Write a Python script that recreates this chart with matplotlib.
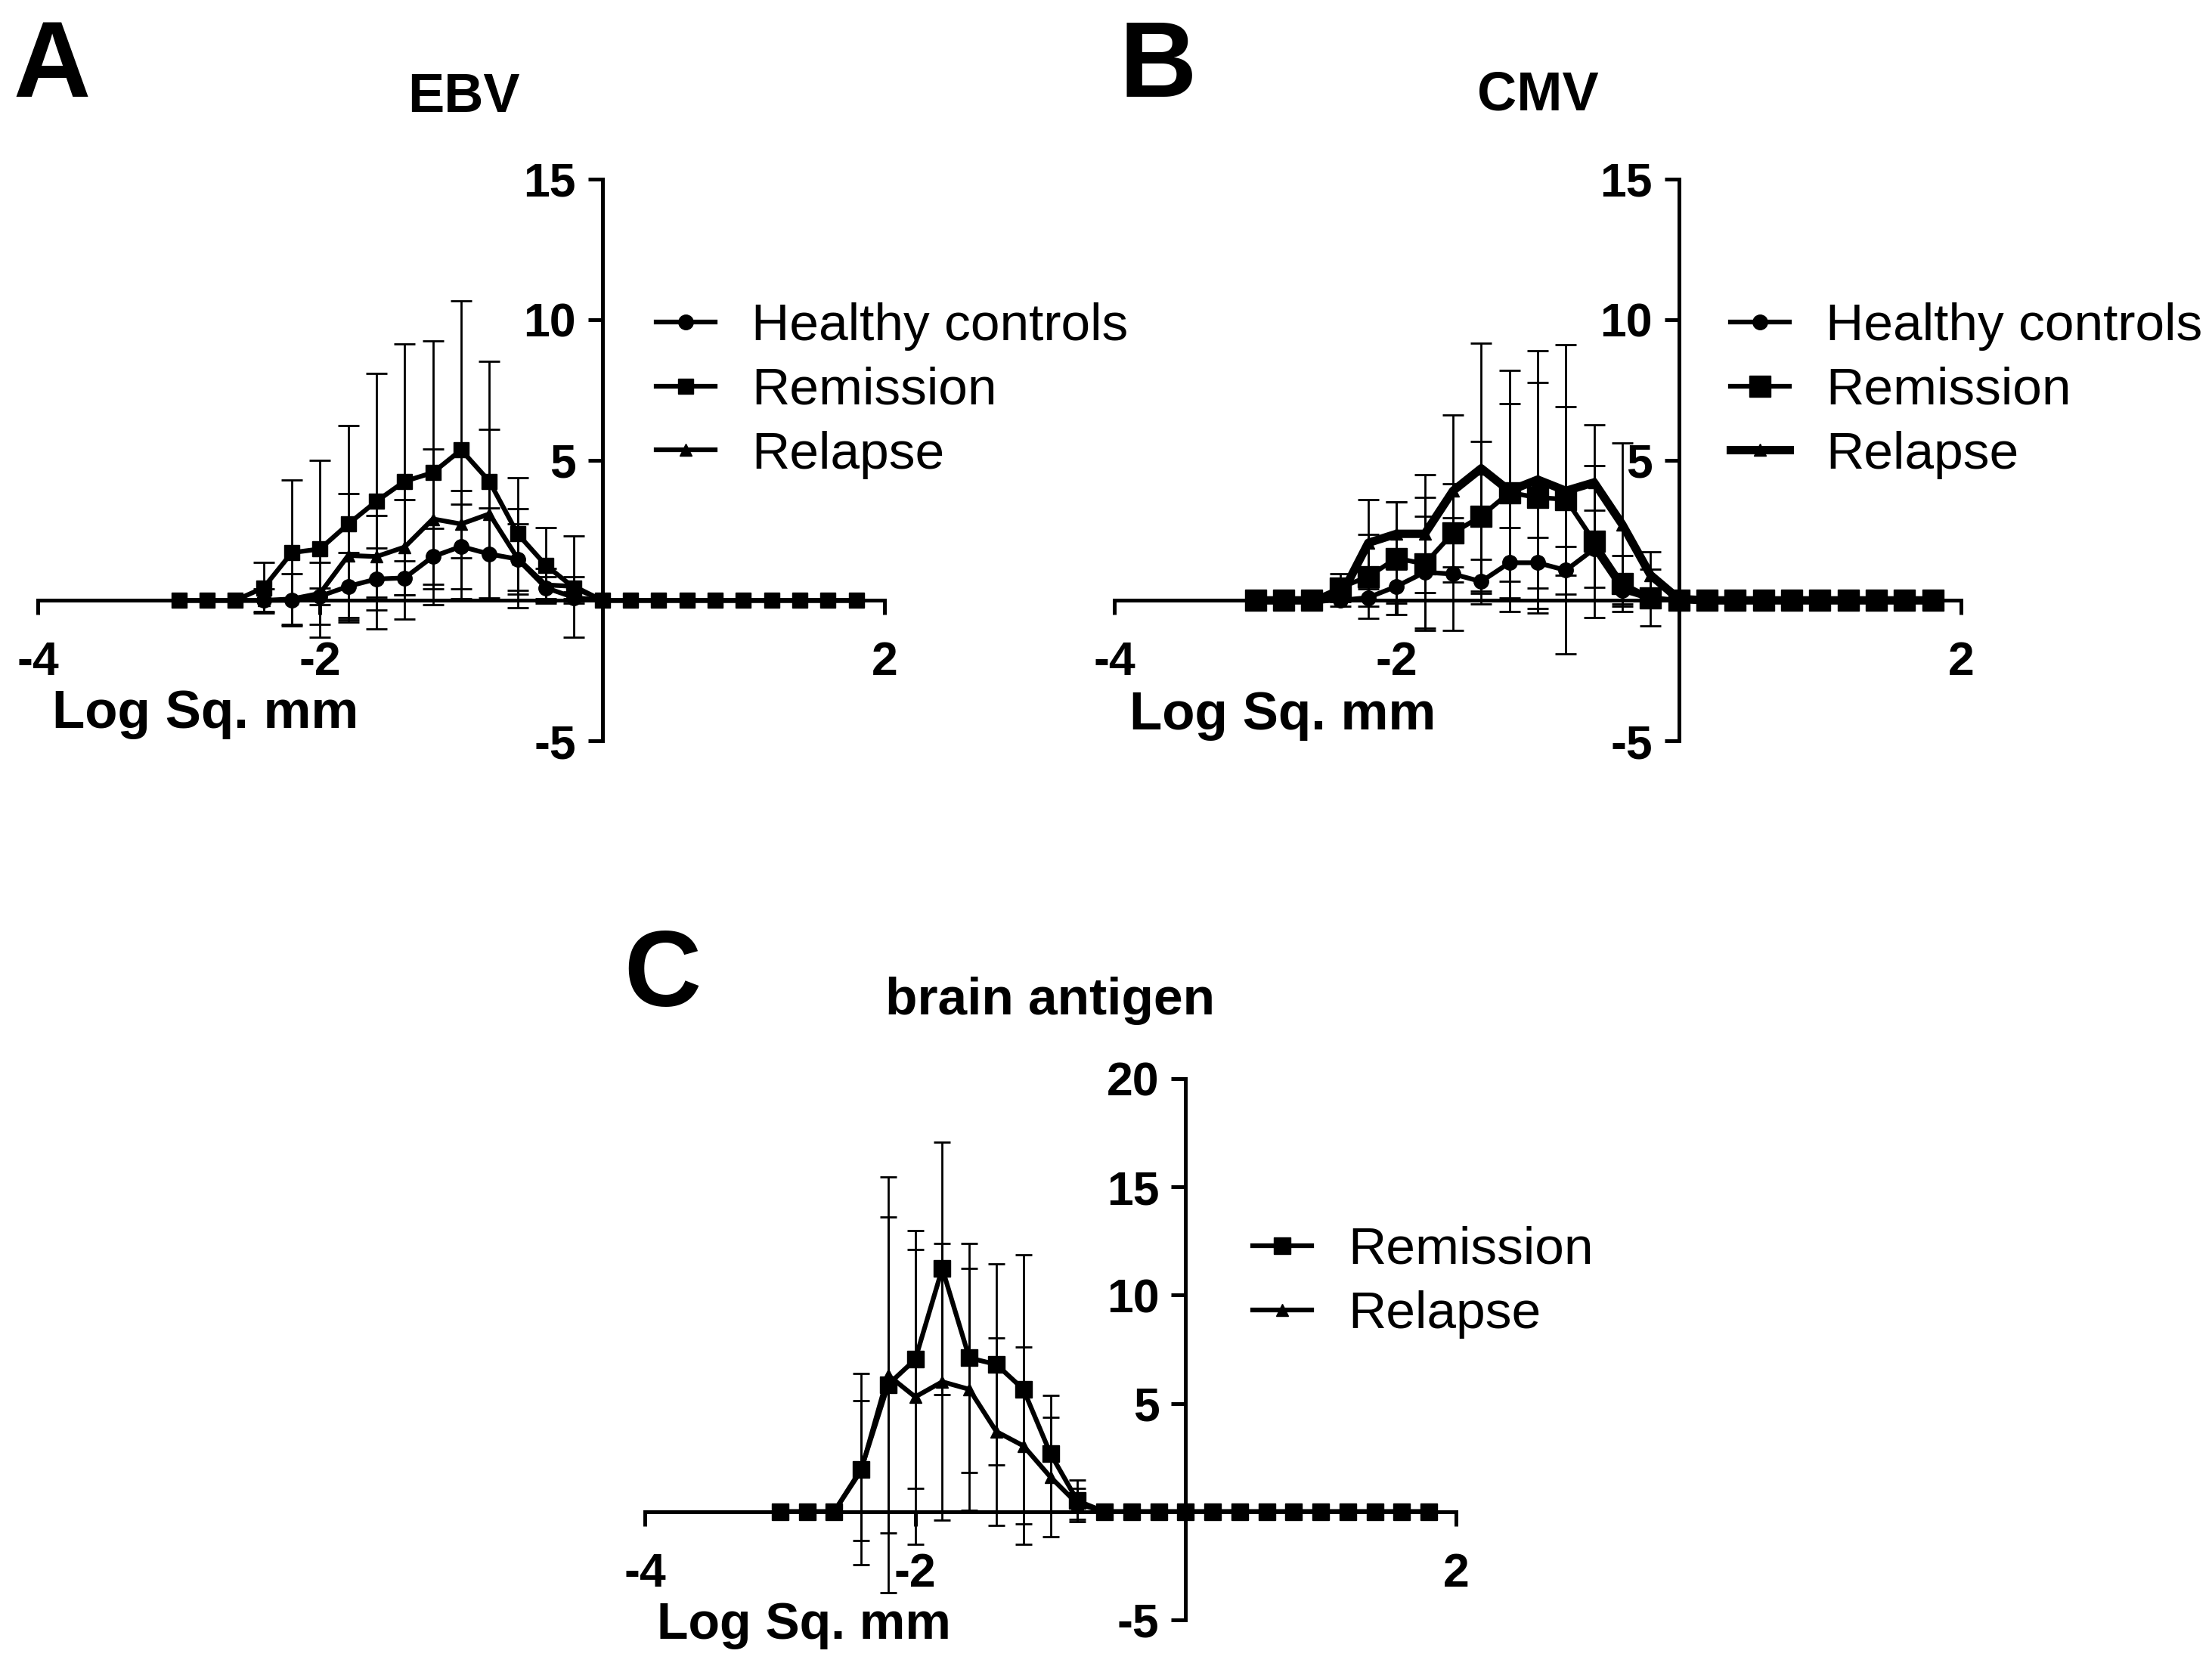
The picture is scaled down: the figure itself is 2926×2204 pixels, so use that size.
import matplotlib
matplotlib.use("Agg")
import matplotlib.pyplot as plt
import numpy as np

plt.rcParams['font.family'] = ['Liberation Sans', 'DejaVu Sans']

# ---------------- data ----------------
x_log = [-3.0, -2.8, -2.6, -2.4, -2.2, -2.0, -1.8, -1.6, -1.4, -1.2, -1.0, -0.8, -0.6,
         -0.4, -0.2, 0.0, 0.2, 0.4, 0.6, 0.8, 1.0, 1.2, 1.4, 1.6, 1.8]

# EBV
ebv_healthy = [0, 0, 0, 0, 0, 0.15, 0.5, 0.76, 0.8, 1.56, 1.92, 1.65, 1.47, 0.45, 0.1,
               0, 0, 0, 0, 0, 0, 0, 0, 0, 0]
ebv_healthy_sd = [0, 0, 0, 0, 0, 0.3, 1.2, 1.1, 0.6, 1.0, 1.5, 1.65, 1.25, 0.4, 0.2,
                  0, 0, 0, 0, 0, 0, 0, 0, 0, 0]
ebv_remission = [0, 0, 0, 0.45, 1.7, 1.83, 2.72, 3.53, 4.24, 4.55, 5.36, 4.24, 2.37, 1.25, 0.45,
                 0, 0, 0, 0, 0, 0, 0, 0, 0, 0]
ebv_remission_sd = [0, 0, 0, 0.9, 2.6, 3.15, 3.5, 4.55, 4.9, 4.7, 5.3, 4.26, 2.0, 1.35, 0.4,
                    0, 0, 0, 0, 0, 0, 0, 0, 0, 0]
ebv_relapse = [0, 0, 0, 0, 0.05, 0.25, 1.6, 1.56, 1.9, 2.9, 2.72, 3.08, 1.5, 0.55, 0.5,
               0, 0, 0, 0, 0, 0, 0, 0, 0, 0]
ebv_relapse_sd = [0, 0, 0, 0.4, 0.9, 1.1, 2.2, 1.45, 1.7, 2.5, 1.2, 3.0, 1.76, 0.6, 1.8,
                  0, 0, 0, 0, 0, 0, 0, 0, 0, 0]

# CMV
cmv_healthy = [0, 0, 0, 0, 0.1, 0.5, 1.0, 0.94, 0.67, 1.34, 1.34, 1.07, 1.83, 0.36, 0.05,
               0, 0, 0, 0, 0, 0, 0, 0, 0, 0]
cmv_healthy_sd = [0, 0, 0, 0, 0.3, 0.6, 2.0, 2.0, 0.8, 1.26, 0.9, 0.85, 1.37, 0.5, 0.2,
                  0, 0, 0, 0, 0, 0, 0, 0, 0, 0]
cmv_remission = [0, 0, 0, 0.45, 0.85, 1.5, 1.3, 2.4, 3.0, 3.84, 3.66, 3.6, 2.1, 0.6, 0.1,
                 0, 0, 0, 0, 0, 0, 0, 0, 0, 0]
cmv_remission_sd = [0, 0, 0, 0.5, 1.5, 2.0, 2.36, 1.75, 2.67, 3.16, 4.1, 5.5, 2.7, 1.0, 1.0,
                    0, 0, 0, 0, 0, 0, 0, 0, 0, 0]
cmv_relapse = [0, 0, 0, 0.1, 2.05, 2.37, 2.37, 3.9, 4.7, 3.9, 4.3, 3.9, 4.2, 2.7, 0.9,
               0.05, 0, 0, 0, 0, 0, 0, 0, 0, 0]
cmv_relapse_sd = [0, 0, 0, 0.3, 1.55, 1.13, 2.1, 2.7, 4.45, 4.3, 4.6, 3.0, 2.05, 2.9, 0.84,
                  0, 0, 0, 0, 0, 0, 0, 0, 0, 0]

# brain antigen
brain_remission = [0, 0, 0, 1.96, 5.87, 7.03, 11.23, 7.1, 6.8, 5.65, 2.68, 0.5, 0, 0, 0,
                   0, 0, 0, 0, 0, 0, 0, 0, 0, 0]
brain_remission_sd = [0, 0, 0, 4.42, 9.6, 5.94, 5.83, 5.3, 4.65, 6.23, 2.68, 0.95, 0, 0, 0,
                      0, 0, 0, 0, 0, 0, 0, 0, 0, 0]
brain_relapse = [0, 0, 0, 1.9, 6.3, 5.3, 6.0, 5.65, 3.7, 3.04, 1.6, 0.36, 0, 0, 0,
                 0, 0, 0, 0, 0, 0, 0, 0, 0, 0]
brain_relapse_sd = [0, 0, 0, 3.24, 7.3, 6.8, 6.4, 5.6, 4.34, 4.56, 2.75, 0.73, 0, 0, 0,
                    0, 0, 0, 0, 0, 0, 0, 0, 0, 0]

series_labels = ["Healthy controls", "Remission", "Relapse"]
x_ticks = [-4, -2, 0, 2]
x_ticklabels = ["-4", "-2", "", "2"]
y_ticks_ab = [-5, 0, 5, 10, 15]
y_ticklabels_ab = ["-5", "", "5", "10", "15"]
y_ticks_c = [-5, 0, 5, 10, 15, 20]
y_ticklabels_c = ["-5", "", "5", "10", "15", "20"]
x_label = "Log Sq. mm"

# ---------------- layout ----------------
W, H = 2926, 2204
DPI = 100
fig = plt.figure(figsize=(W / DPI, H / DPI), dpi=DPI)


def px_axes(left, right, top, bottom):
    return fig.add_axes([left / W, 1 - bottom / H, (right - left) / W, (bottom - top) / H])


def style_axes(ax, ylim, yticks, yticklabels):
    ax.set_xlim(-4, 2)
    ax.set_ylim(*ylim)
    for s in ['top', 'right']:
        ax.spines[s].set_visible(False)
    ax.spines['left'].set_position(('data', 0))
    ax.spines['bottom'].set_position(('data', 0))
    for s in ['left', 'bottom']:
        ax.spines[s].set_linewidth(3.6)
    ax.set_xticks(x_ticks)
    ax.set_xticklabels(x_ticklabels)
    ax.set_yticks(yticks)
    ax.set_yticklabels(yticklabels)
    ax.tick_params(axis='x', direction='out', length=14, width=3.6, pad=24,
                   labelsize=45)
    ax.tick_params(axis='y', direction='out', length=14, width=3.6, pad=11,
                   labelsize=45)
    for lab in ax.get_xticklabels() + ax.get_yticklabels():
        lab.set_fontweight('bold')
    ax.patch.set_alpha(0)


def plot_series(ax, y, sd, marker, ms, lw, capsize, elw=2.0):
    eb = ax.errorbar(x_log, y, yerr=sd, color='black', marker=marker, ms=ms,
                     mfc='black', mec='black', lw=lw, elinewidth=elw,
                     capsize=capsize, capthick=elw, clip_on=False, zorder=3)
    for art in eb.lines[1]:
        art.set_clip_on(False)
    for art in eb.lines[2]:
        art.set_clip_on(False)
    eb.lines[0].set_clip_on(False)
    return eb.lines[0]


def add_legend(ax, handles, labels, left_px, top_px):
    ax.legend(handles, labels, loc='upper left',
              bbox_to_anchor=(left_px / W, 1 - top_px / H),
              bbox_transform=fig.transFigure, frameon=False, fontsize=50,
              handlelength=1.12, handletextpad=0.7, borderpad=0,
              borderaxespad=0, labelspacing=0.3, numpoints=1)


# Panel A
axA = px_axes(50, 1170, 237, 980)
style_axes(axA, (-5, 15), y_ticks_ab, y_ticklabels_ab)
hA1 = plot_series(axA, ebv_healthy, ebv_healthy_sd, 'o', 14, 4.5, 10)
hA2 = plot_series(axA, ebv_remission, ebv_remission_sd, 's', 15, 4.5, 10)
hA3 = plot_series(axA, ebv_relapse, ebv_relapse_sd, '^', 12, 4.5, 10)
add_legend(axA, [hA1, hA2, hA3], series_labels, 868, 400)

# Panel B
axB = px_axes(1474, 2594, 237, 980)
style_axes(axB, (-5, 15), y_ticks_ab, y_ticklabels_ab)
hB1 = plot_series(axB, cmv_healthy, cmv_healthy_sd, 'o', 14, 4.5, 10)
hB2 = plot_series(axB, cmv_remission, cmv_remission_sd, 's', 20, 4.5, 10)
hB3 = plot_series(axB, cmv_relapse, cmv_relapse_sd, '^', 12, 8, 10)
add_legend(axB, [hB1, hB2, hB3], series_labels, 2289, 400)

# Panel C
axC = px_axes(853, 1926, 1427, 2143)
style_axes(axC, (-5, 20), y_ticks_c, y_ticklabels_c)
hC2 = plot_series(axC, brain_remission, brain_remission_sd, 's', 16, 4.5, 8)
hC3 = plot_series(axC, brain_relapse, brain_relapse_sd, '^', 12, 4.5, 8)
add_legend(axC, [hC2, hC3], series_labels[1:], 1657, 1622)

# ---------------- figure texts ----------------
def ftext(xp, yp, s, size, ha='left', weight='bold'):
    fig.text(xp / W, 1 - yp / H, s, ha=ha, va='baseline', fontsize=size,
             fontweight=weight)


ftext(17, 128, "A", 102)
ftext(1481, 128, "B", 102)
ftext(825, 1331, "C", 102)
ftext(613, 148, "EBV", 52, ha='center')
ftext(2034, 146, "CMV", 52, ha='center')
ftext(1389, 1342, "brain antigen", 50, ha='center')
ftext(69, 963, x_label, 51)
ftext(1494, 965, x_label, 51)
ftext(869, 2168, x_label, 49)

fig.savefig("out.png", dpi=DPI, facecolor='white')
